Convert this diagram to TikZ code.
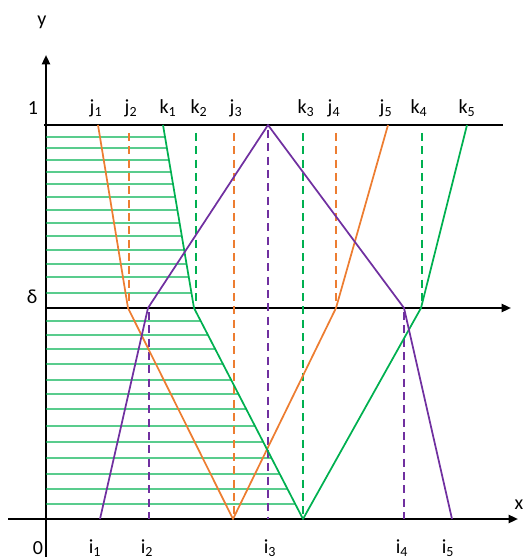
\documentclass[tikz,border=0pt]{standalone}
\usepackage{fontspec}
\setmainfont{Carlito}
\usepackage{tikz}
\usetikzlibrary{arrows.meta,calc}
\definecolor{cOrange}{RGB}{237,125,49}
\definecolor{cGreen}{RGB}{0,176,80}
\definecolor{cPurple}{RGB}{112,48,160}
\tikzset{
  axis/.style={line width=1.6pt,color=black},
  axarr/.style={axis,-{Triangle[length=7pt,width=6pt]}},
  orline/.style={line width=1.3pt,color=cOrange,line join=round},
  grline/.style={line width=1.3pt,color=cGreen,line join=round},
  puline/.style={line width=1.3pt,color=cPurple,line join=round},
  ordash/.style={orline,dash pattern=on 6pt off 4pt},
  grdash/.style={grline,dash pattern=on 6pt off 4pt},
  pudash/.style={puline,dash pattern=on 6pt off 4pt},
  hatch/.style={line width=1.1pt,color=cGreen},
  lbl/.style={font=\fontsize{15}{15}\selectfont,inner sep=0pt}
}
\newcommand{\sub}[2]{#1\textsubscript{#2}}

\begin{document}
\begin{tikzpicture}[x=0.75pt,y=-0.75pt]
  \useasboundingbox (0,0) rectangle (525,559);
  % axes and levels
  \draw[axarr] (46,557) -- (46,55);
  \draw[axarr] (8,519) -- (518,519);
  \draw[axarr] (46,308) -- (511,308);
  \draw[axis] (44,125) -- (503,125);
  % key points of the k curve
  \coordinate (kt) at (163,125);
  \coordinate (kd) at (194,308);
  \coordinate (kb) at (303,519);
  % hatching up to the green curve
  \foreach \y in {137,148,160,172,184,197,210,223,236,250,264,277,293}
    \draw[hatch] (46,\y) -- ($(kt)!{(\y-125)/183}!(kd)$);
  \foreach \y in {321,335,349,364,380,394,409,426,442,458,474,489,504}
    \draw[hatch] (46,\y) -- ($(kd)!{(\y-308)/211}!(kb)$);
  % dashed guides
  \draw[ordash] (129,133) -- (129,302);
  \draw[ordash] (234,133) -- (234,519);
  \draw[ordash] (336,133) -- (336,302);
  \draw[grdash] (196,133) -- (196,305);
  \draw[grdash] (303,133) -- (303,519);
  \draw[grdash] (422,133) -- (422,305);
  \draw[pudash] (149,312) -- (149,519);
  \draw[pudash] (268,130) -- (268,519);
  \draw[pudash] (404,312) -- (404,519);
  % curves
  \draw[orline] (98,125) -- (128,308) -- (233,519) -- (336,308) -- (388,125);
  \draw[grline] (kt) -- (kd) -- (kb) -- (421,308) -- (467,125);
  \draw[puline] (100,519) -- (148,308) -- (268,125) -- (404,308) -- (452,519);
  % labels
  \node[lbl] (ylab) at (42,22) {y};
  \node[lbl] (xlab) at (519,505) {x};
  \node[lbl] (one) at (33,108) {1};
  \node[lbl] (del) at (32,297) {δ};
  \node[lbl] (zero) at (38,548) {0};
  \node[lbl] (j1) at (96,108) {\sub{j}{1}};
  \node[lbl] (j2) at (131,108) {\sub{j}{2}};
  \node[lbl] (k1) at (168,108) {\sub{k}{1}};
  \node[lbl] (k2) at (199,108) {\sub{k}{2}};
  \node[lbl] (j3) at (236,108) {\sub{j}{3}};
  \node[lbl] (k3) at (306,108) {\sub{k}{3}};
  \node[lbl] (j4) at (334,108) {\sub{j}{4}};
  \node[lbl] (j5) at (386,108) {\sub{j}{5}};
  \node[lbl] (k4) at (419,108) {\sub{k}{4}};
  \node[lbl] (k5) at (467,108) {\sub{k}{5}};
  \node[lbl] (i1) at (95,548) {\sub{i}{1}};
  \node[lbl] (i2) at (147,548) {\sub{i}{2}};
  \node[lbl] (i3) at (270,548) {\sub{i}{3}};
  \node[lbl] (i4) at (402,548) {\sub{i}{4}};
  \node[lbl] (i5) at (448,548) {\sub{i}{5}};
\end{tikzpicture}
\end{document}
